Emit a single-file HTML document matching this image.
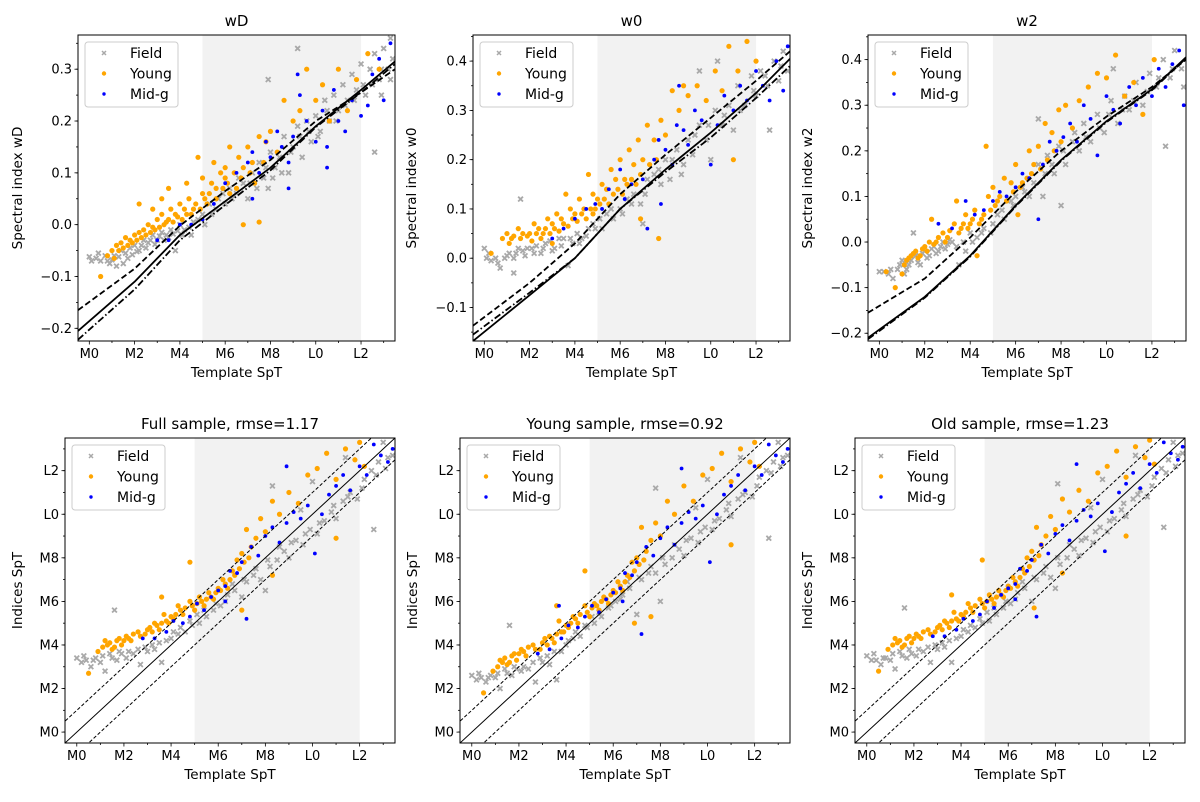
<!DOCTYPE html>
<html><head><meta charset="utf-8">
<style>
html,body{margin:0;padding:0;background:#fff;}
svg{display:block;font-family:"DejaVu Sans","Liberation Sans",sans-serif;}
</style></head>
<body>
<svg id="fig" width="1200" height="802" viewBox="0 0 1200 802" xmlns="http://www.w3.org/2000/svg"></svg>
<script>
// ---------- DATA ----------
const spTicks = [0,2,4,6,8,10,12];
const spTickLabels = ["M0","M2","M4","M6","M8","L0","L2"];
const shadeRange = [5,12];
const lineKnotsX = [-0.5,2,4,6,8,10,12,13.5];

const wD_field = "0,-0.062 0.1,-0.07 0.3,-0.065 0.5,-0.07 0.7,-0.06 0.9,-0.075 1.1,-0.06 1.2,-0.08 1.4,-0.05 1.6,-0.055 1.8,-0.045 2,-0.04 2.2,-0.05 2.4,-0.03 2.6,-0.035 2.8,-0.02 3,-0.03 3.2,-0.015 3.4,-0.02 3.6,-0.01 3.8,-0.05 4,0.0 4.2,-0.01 4.5,-0.02 4.8,0.01 5,0.02 5.3,0.04 5.6,0.03 5.9,0.06 6.2,0.07 6.5,0.06 6.8,0.08 7,0.05 7.2,0.1 7.5,0.12 7.7,0.09 7.9,0.07 8,0.14 8.2,0.11 8.4,0.13 8.6,0.17 8.8,0.1 9,0.15 9.2,0.19 9.4,0.13 9.6,0.2 9.8,0.16 10,0.21 10.2,0.18 10.4,0.24 10.6,0.2 10.8,0.25 11,0.22 11.2,0.27 11.4,0.24 11.6,0.29 11.8,0.26 12,0.31 12.2,0.25 12.4,0.3 12.6,0.33 12.8,0.28 13,0.34 13.2,0.3 13.4,0.32 12.6,0.14 7.9,0.28 9.2,0.34 12.9,0.25 13.3,0.36 0.4,-0.055 0.8,-0.07 1,-0.068 1.3,-0.062 1.5,-0.075 1.7,-0.065 1.9,-0.058 2.1,-0.052 2.3,-0.04 2.5,-0.045 2.7,-0.03 2.9,-0.038 3.1,-0.022 3.3,-0.03 3.5,-0.025 3.7,-0.018 3.9,-0.012 4.1,-0.02 4.4,-0.005 4.6,0.005 5.1,0.0 5.4,0.02 5.7,0.05 6,0.04 6.3,0.05 6.6,0.09 7.1,0.08 7.4,0.07 7.8,0.11 8.1,0.09 8.5,0.1 8.9,0.14 9.3,0.17 9.7,0.18 10.1,0.17 10.5,0.22 10.9,0.2 11.3,0.23 11.7,0.24 12.1,0.27 12.5,0.27 12.9,0.3 13.3,0.28";
const wD_young = "0.5,-0.1 0.8,-0.06 1,-0.05 1.2,-0.04 1.4,-0.035 1.6,-0.025 1.8,-0.03 2,-0.02 2.2,-0.015 2.4,-0.01 2.6,0.0 2.8,-0.005 3,0.01 3.2,0.02 3.4,0.005 3.6,0.03 3.8,0.02 4,0.04 4.2,0.03 4.4,0.05 4.6,0.03 4.8,0.13 5,0.06 5.2,0.04 5.4,0.08 5.6,0.07 5.8,0.1 6,0.09 6.2,0.06 6.4,0.1 6.6,0.13 6.8,0.11 7,0.15 7.2,0.12 7.5,0.17 7.8,0.16 8,0.18 8.3,0.14 8.6,0.24 9,0.2 9.3,0.22 9.6,0.3 10,0.24 10.3,0.27 10.6,0.2 11,0.3 11.4,0.22 11.8,0.28 12.3,0.33 12.8,0.3 6.8,0.0 7.5,0.005 3.5,0.07 2.2,0.04 5.5,0.12 6.2,0.15 1.1,-0.065 1.3,-0.05 1.5,-0.045 1.7,-0.04 1.9,-0.035 2.1,-0.03 2.3,-0.025 2.5,-0.02 2.7,-0.015 2.9,-0.01 3.1,-0.005 3.3,0.0 3.5,0.01 3.7,0.005 3.9,0.015 4.1,0.01 4.3,0.02 4.5,0.02 4.7,0.04 4.9,0.03 5.1,0.05 5.3,0.06 5.6,0.05 5.9,0.07 6.1,0.08 6.5,0.07 6.7,0.09 7.1,0.1 7.3,0.08 7.7,0.12 2.8,0.03 3.2,0.05 4.3,0.08 5.0,0.09 6.0,0.11";
const wD_midg = "3,-0.03 3.5,-0.03 4,0.0 4.5,0.0 5,0.01 5.5,0.04 6,0.08 6.5,0.1 7,0.12 7.2,0.14 7.5,0.1 7.8,0.16 8,0.13 8.3,0.18 8.5,0.15 8.8,0.12 9,0.17 9.3,0.25 9.6,0.2 10,0.16 10.3,0.22 10.5,0.15 10.8,0.26 11,0.2 11.3,0.18 11.6,0.24 12,0.21 12.3,0.23 12.5,0.29 12.8,0.32 13,0.24 13.3,0.35 9.2,0.29 10.5,0.11 8.8,0.07 7.2,0.05";
const wD_solid = [-0.205,-0.11,-0.02,0.045,0.11,0.19,0.26,0.315];
const wD_dash = [-0.165,-0.085,-0.002,0.065,0.125,0.2,0.255,0.30];
const wD_dashdot = [-0.222,-0.125,-0.03,0.038,0.105,0.188,0.255,0.31];

const w0_field = "0,0.02 0.1,0.0 0.3,-0.005 0.5,0.0 0.7,-0.02 0.9,0.0 1.1,0.01 1.3,0.0 1.5,0.02 1.7,0.015 1.9,0.02 2.1,0.02 2.3,0.025 2.5,0.01 2.7,0.03 2.9,0.035 3.1,0.02 3.3,0.04 3.5,0.04 3.7,-0.015 3.9,0.03 4.1,0.05 4.3,0.04 4.6,0.06 4.9,0.06 5.1,0.08 5.4,0.09 5.7,0.08 6,0.1 6.3,0.12 6.6,0.13 6.9,0.11 7,0.07 7.2,0.16 7.5,0.17 7.8,0.15 8,0.2 8.2,0.16 8.5,0.22 8.8,0.19 9,0.24 9.2,0.21 9.5,0.27 9.8,0.24 10,0.2 10.2,0.3 10.5,0.27 10.8,0.31 11,0.26 11.2,0.35 11.5,0.31 11.8,0.37 12,0.33 12.2,0.38 12.5,0.35 12.8,0.4 13,0.36 13.2,0.42 13.4,0.38 12.6,0.26 1.6,0.12 1.3,-0.03 9.5,0.38 10.3,0.4 0.2,0.01 0.6,-0.01 1,0.005 1.4,0.01 1.8,0.005 2.2,0.01 2.6,0.02 3,0.015 3.4,0.025 3.8,0.04 4.2,0.03 4.5,0.045 4.8,0.07 5.2,0.06 5.6,0.1 6.1,0.09 6.5,0.11 7.1,0.13 7.7,0.18 8.3,0.2 8.7,0.17 9.3,0.25 9.9,0.27 10.6,0.29 11.3,0.3 11.9,0.34 12.4,0.37 13.1,0.39";
const w0_young = "0.3,0.01 0.8,0.04 1,0.05 1.2,0.04 1.5,0.06 1.7,0.05 2,0.05 2.2,0.07 2.4,0.06 2.6,0.05 2.8,0.08 3,0.07 3.2,0.09 3.4,0.08 3.6,0.13 3.8,0.1 4,0.09 4.2,0.12 4.4,0.1 4.6,0.17 4.8,0.13 5,0.12 5.2,0.15 5.4,0.14 5.6,0.18 5.8,0.16 6,0.2 6.2,0.16 6.4,0.22 6.6,0.19 6.8,0.24 7,0.2 7.2,0.27 7.5,0.24 7.8,0.28 8,0.25 8.3,0.34 8.6,0.3 9,0.33 9.4,0.35 9.8,0.32 10.2,0.38 10.5,0.34 10.8,0.43 11.2,0.38 11.6,0.44 12,0.4 7.7,0.04 6.9,0.08 11,0.2 8.8,0.35 4.8,0.09 3,0.03 1.1,0.03 1.3,0.045 1.6,0.04 1.9,0.045 2.1,0.035 2.3,0.05 2.5,0.04 2.7,0.06 2.9,0.05 3.1,0.06 3.3,0.055 3.5,0.07 3.7,0.065 3.9,0.08 4.1,0.075 4.3,0.09 4.5,0.08 4.7,0.1 4.9,0.1 5.1,0.11 5.3,0.12 5.5,0.11 5.7,0.13 5.9,0.14 6.1,0.13 6.3,0.15 6.5,0.16 6.7,0.15 6.9,0.17 7.3,0.19 7.6,0.2";
const w0_midg = "3,0.04 3.5,0.06 4,0.08 4.5,0.1 4.9,0.11 5.2,0.1 5.5,0.14 6,0.18 6.2,0.12 6.5,0.15 7,0.16 7.2,0.06 7.5,0.2 7.7,0.24 8,0.22 8.3,0.19 8.5,0.27 8.8,0.26 9,0.23 9.3,0.3 9.6,0.28 10,0.19 10.3,0.27 10.6,0.33 11,0.3 11.3,0.35 11.6,0.32 12,0.38 12.3,0.35 12.6,0.32 12.9,0.4 13.2,0.34 13.4,0.43 8.6,0.35 7.8,0.11";
const w0_solid = [-0.168,-0.075,0.0,0.1,0.18,0.255,0.335,0.405];
const w0_dash = [-0.137,-0.05,0.03,0.13,0.21,0.285,0.36,0.42];
const w0_dashdot = [-0.155,-0.07,0.0,0.1,0.175,0.245,0.325,0.39];

const w2_field = "0,-0.065 0.2,-0.065 0.4,-0.07 0.6,-0.08 0.8,-0.06 1,-0.04 1.2,-0.06 1.4,-0.04 1.6,-0.03 1.8,-0.05 2,-0.02 2.2,-0.03 2.4,-0.01 2.6,-0.02 2.8,0.0 3,-0.005 3.2,0.0 3.5,-0.05 3.8,-0.02 4,0.02 4.3,0.01 4.6,0.03 4.9,0.02 5.2,0.06 5.5,0.05 5.8,0.09 6,0.1 6.3,0.12 6.6,0.1 7,0.17 7.2,0.1 7.4,0.19 7.7,0.15 7.9,0.21 8,0.08 8.2,0.17 8.5,0.22 8.8,0.2 9,0.26 9.3,0.22 9.6,0.28 9.9,0.24 10.2,0.31 10.5,0.26 10.8,0.32 11,0.29 11.3,0.35 11.6,0.3 11.9,0.37 12.2,0.34 12.5,0.4 12.8,0.36 13,0.42 13.3,0.38 13.4,0.34 12.6,0.21 1.5,0.02 7,0.27 10.3,0.38 0.5,-0.06 0.9,-0.05 1.1,-0.07 1.3,-0.05 1.7,-0.045 1.9,-0.025 2.1,-0.035 2.3,-0.015 2.5,-0.025 2.7,-0.01 2.9,-0.015 3.1,0.005 3.4,-0.01 3.7,0.0 4.1,0.0 4.5,0.02 5.0,0.04 5.4,0.07 5.9,0.08 6.4,0.11 6.8,0.13 7.3,0.15 7.6,0.17 8.1,0.2 8.6,0.24 9.1,0.23 9.7,0.25 10.1,0.28 10.7,0.29 11.2,0.31 11.8,0.33 12.3,0.36 12.9,0.38";
const w2_young = "0.3,-0.065 0.7,-0.1 1,-0.07 1.2,-0.04 1.4,-0.03 1.6,-0.02 1.8,-0.03 2,-0.01 2.2,0.0 2.5,0.0 2.8,0.02 3,0.01 3.3,0.04 3.6,0.03 3.8,0.06 4,0.04 4.2,0.07 4.5,0.05 4.7,0.21 4.8,0.1 5,0.12 5.2,0.09 5.5,0.14 5.8,0.13 6,0.17 6.3,0.13 6.6,0.2 6.8,0.17 7,0.21 7.3,0.26 7.6,0.24 7.9,0.29 8.2,0.3 8.5,0.25 8.8,0.31 9.2,0.34 9.6,0.37 10,0.36 10.4,0.41 10.8,0.32 11.2,0.35 11.6,0.28 12.1,0.4 6.1,0.06 4.3,-0.03 3.4,0.09 2.3,0.05 1.1,-0.05 1.3,-0.035 1.5,-0.025 1.7,-0.035 1.9,-0.015 2.1,-0.02 2.4,-0.005 2.6,0.01 2.9,0.0 3.1,0.025 3.5,0.02 3.7,0.04 3.9,0.03 4.1,0.05 4.4,0.04 4.6,0.06 4.9,0.07 5.1,0.08 5.3,0.1 5.6,0.09 5.9,0.11 6.2,0.12 6.5,0.14 6.7,0.15 7.1,0.16 7.4,0.18 7.7,0.2 8.0,0.22";
const w2_midg = "2.6,0.04 3.2,0.03 3.8,0.09 4.2,0.06 4.6,0.07 5,0.09 5.3,0.11 5.6,0.1 6,0.12 6.3,0.15 6.6,0.14 7,0.05 7.2,0.17 7.5,0.22 7.8,0.2 8.1,0.23 8.4,0.26 8.7,0.22 9,0.3 9.3,0.27 9.6,0.19 10,0.32 10.3,0.29 10.6,0.26 11,0.34 11.3,0.3 11.6,0.36 12,0.32 12.3,0.38 12.6,0.34 12.9,0.39 13.2,0.42 13.4,0.3";
const w2_solid = [-0.21,-0.12,-0.03,0.08,0.18,0.265,0.335,0.405];
const w2_dash = [-0.155,-0.08,0.01,0.11,0.2,0.275,0.34,0.40];
const w2_dashdot = [-0.213,-0.122,-0.032,0.078,0.178,0.263,0.333,0.403];

const full_field = "0,3.4 0.2,3.2 0.4,3.3 0.6,3.0 0.8,3.4 1,3.2 1.2,2.8 1.4,3.6 1.6,5.6 1.7,3.3 1.9,3.6 2.1,3.4 2.4,3.6 2.7,3.1 3,3.7 3.3,3.8 3.6,3.2 3.8,4.2 4,4.3 4.3,4.5 4.6,4.6 4.9,4.9 5.2,5.0 5.5,5.3 5.8,5.6 6.1,5.8 6.4,6.3 6.7,6.5 7,6.2 7.2,6.9 7.5,7.2 7.8,7.0 8,6.5 8.2,7.6 8.5,7.9 8.8,8.3 9,8.0 9.3,8.8 9.6,8.6 9.9,9.3 10.2,9.1 10.5,9.7 10.8,10.1 11,9.8 11.3,10.6 11.6,11.0 11.9,10.7 12.2,11.6 12.5,12.0 12.8,12.4 13.1,12.1 13.4,12.7 12.6,9.3 8.3,11.3 10,11.5 13,13.3 11.4,12.6 9.5,10.2 0.3,3.5 0.7,3.3 1.1,3.5 1.5,3.4 1.8,3.7 2.2,3.7 2.6,3.8 2.9,3.9 3.2,4.0 3.5,4.1 4.1,4.6 4.4,4.8 4.8,5.1 5.1,5.4 5.4,5.6 5.9,5.9 6.3,6.0 6.6,6.8 7.1,7.0 7.6,7.5 8.1,7.9 8.6,8.5 9.1,8.7 9.7,9.1 10.3,9.6 10.9,10.4 11.5,10.8 12.1,11.2 12.7,11.8 13.2,12.6";
const full_young = "0.5,2.7 0.9,3.7 1.1,3.9 1.3,4.0 1.5,3.8 1.7,4.2 1.9,4.0 2.1,4.4 2.3,4.2 2.6,4.6 2.9,4.5 3.1,4.8 3.3,5.0 3.5,4.7 3.7,5.4 3.9,5.0 4.1,5.2 4.3,5.8 4.5,5.4 4.8,7.8 4.8,6.0 5,5.6 5.2,6.2 5.4,5.8 5.6,6.4 5.8,6.1 6,6.6 6.2,7.0 6.4,6.6 6.6,7.4 6.8,7.9 7,8.2 7.2,9.3 7.4,8.5 7.6,8.9 7.8,9.8 8,9.2 8.3,10.6 8.6,10.0 9,11.0 9.4,10.5 9.8,11.8 10.2,12.1 10.6,12.8 11,11.6 11.4,13.0 11.8,12.5 12.2,12.2 12,13.3 7,5.6 8.3,7.2 3.6,6.2 11,8.9 1.2,4.2 1.4,4.1 1.6,3.9 1.8,4.3 2.0,4.2 2.2,4.3 2.4,4.5 2.7,4.4 3.0,4.7 3.2,4.6 3.4,4.9 3.6,5.0 3.8,5.1 4.0,5.3 4.2,5.4 4.4,5.6 4.6,5.7 4.9,5.8 5.1,5.9 5.3,6.0 5.5,6.1 5.7,6.2 5.9,6.4 6.1,6.5 6.3,6.8 6.5,7.0 6.7,7.2 6.9,7.5 7.1,7.8 7.3,8.0";
const full_midg = "2.8,4.3 3.3,4.3 3.8,4.6 4.1,5.1 4.5,5.0 4.8,5.3 5.1,5.9 5.4,5.6 5.7,6.2 6,6.5 6.3,6.7 6.5,7.4 6.8,7.3 7,7.8 7.2,5.2 7.4,8.5 7.7,8.1 8,9.0 8.3,9.4 8.6,8.7 8.9,9.6 9.2,10.1 9.5,9.8 9.8,10.4 10.1,8.2 10.4,10.0 10.7,10.9 11,11.3 11.3,11.8 11.6,11.1 12,12.2 12.3,11.8 12.6,13.2 12.9,12.7 13.2,12.4 13.4,13.0 8.9,12.2 6.3,6.0";

const young_field = "0,2.6 0.2,2.4 0.4,2.5 0.6,2.3 0.8,2.6 1,2.5 1.2,2.0 1.4,2.9 1.6,4.9 1.7,2.6 1.9,2.9 2.1,2.8 2.4,2.9 2.7,2.3 3,3.2 3.3,3.1 3.6,2.4 3.8,3.7 4,4.0 4.3,4.3 4.6,4.4 4.9,4.8 5.2,5.0 5.5,5.3 5.8,5.7 6.1,6.0 6.4,6.3 6.7,6.6 7,5.4 7.2,7.0 7.5,7.3 7.8,7.3 8,6.0 8.2,7.7 8.5,8.0 8.8,8.4 9,8.1 9.3,8.9 9.6,8.7 9.9,9.4 10.2,9.3 10.5,9.8 10.8,10.2 11,9.9 11.3,10.7 11.6,11.0 11.9,10.8 12.2,11.7 12.5,12.0 12.8,12.4 13.1,12.2 13.4,12.7 12.6,8.9 7.8,11.2 10,11.6 13,13.3 11.4,12.6 9.5,10.3 0.3,2.7 0.7,2.5 1.1,2.7 1.5,2.7 1.8,3.0 2.2,3.0 2.6,3.2 2.9,3.4 3.2,3.5 3.5,3.7 4.1,4.2 4.4,4.6 4.8,4.9 5.1,5.3 5.4,5.5 5.9,5.8 6.3,6.1 6.6,6.9 7.1,7.1 7.6,7.6 8.1,8.0 8.6,8.6 9.1,8.8 9.7,9.2 10.3,9.7 10.9,10.5 11.5,10.9 12.1,11.3 12.7,11.9 13.2,12.6";
const young_young = "0.5,1.8 0.9,2.8 1.1,3.0 1.3,3.2 1.5,3.1 1.7,3.5 1.9,3.3 2.1,3.8 2.3,3.5 2.6,4.0 2.9,3.8 3.1,4.3 3.3,4.4 3.5,4.1 3.7,5.1 3.9,4.6 4.1,4.8 4.3,5.3 4.5,5.0 4.8,7.4 4.8,5.8 5,5.3 5.2,5.9 5.4,5.6 5.6,6.2 5.8,5.9 6,6.5 6.2,6.9 6.4,6.5 6.6,7.2 6.8,7.8 7,8.0 7.2,9.4 7.4,8.3 7.6,8.8 7.8,9.6 8,9.0 8.3,10.6 8.6,10.0 9,11.3 9.4,10.6 9.8,11.8 10.2,12.1 10.6,12.8 11,11.5 11.4,13.0 11.8,12.4 12.2,12.2 12,13.3 6.9,5.0 7.6,5.3 3.6,5.8 11,8.6 1.2,3.3 1.4,3.4 1.6,3.2 1.8,3.6 2.0,3.6 2.2,3.7 2.4,3.9 2.7,3.8 3.0,4.1 3.2,4.0 3.4,4.3 3.6,4.5 3.8,4.6 4.0,4.9 4.2,5.0 4.4,5.2 4.6,5.4 4.9,5.5 5.1,5.7 5.3,5.8 5.5,6.0 5.7,6.1 5.9,6.3 6.1,6.4 6.3,6.7 6.5,6.9 6.7,7.1 6.9,7.4 7.1,7.7 7.3,7.9";
const young_midg = "2.8,3.6 3.3,3.8 3.8,4.3 4.1,4.9 4.5,4.8 4.8,5.3 5.1,5.8 5.4,5.5 5.7,6.1 6,6.4 6.3,6.6 6.5,7.3 6.8,7.2 7,7.8 7.2,4.5 7.4,8.5 7.7,8.1 8,8.9 8.3,9.4 8.6,8.6 8.9,9.6 9.2,10.1 9.5,9.8 9.8,10.4 10.1,7.8 10.4,10.0 10.7,10.9 11,11.3 11.3,11.8 11.6,11.1 12,12.2 12.3,11.8 12.6,13.2 12.9,12.7 13.2,12.4 13.4,13.0 8.9,12.1 6.4,6.0 3.7,5.8";

const old_field = "0,3.5 0.2,3.3 0.4,3.3 0.6,3.1 0.8,3.4 1,3.3 1.2,2.9 1.4,3.7 1.6,5.7 1.7,3.4 1.9,3.6 2.1,3.5 2.4,3.7 2.7,3.2 3,3.8 3.3,3.9 3.6,3.2 3.8,4.3 4,4.4 4.3,4.6 4.6,4.8 4.9,5.0 5.2,5.1 5.5,5.4 5.8,5.7 6.1,5.9 6.4,6.4 6.7,6.6 7,6.0 7.2,7.0 7.5,7.3 7.8,7.1 8,6.6 8.2,7.7 8.5,8.0 8.8,8.4 9,8.1 9.3,8.9 9.6,8.7 9.9,9.4 10.2,9.2 10.5,9.8 10.8,10.2 11,9.9 11.3,10.7 11.6,11.1 11.9,10.8 12.2,11.7 12.5,12.1 12.8,12.5 13.1,12.2 13.4,12.8 12.6,9.4 8.1,11.4 10,11.6 13,13.3 11.4,12.7 9.5,10.3 0.3,3.6 0.7,3.4 1.1,3.6 1.5,3.5 1.8,3.8 2.2,3.8 2.6,3.9 2.9,4.0 3.2,4.1 3.5,4.2 4.1,4.7 4.4,4.9 4.8,5.2 5.1,5.5 5.4,5.7 5.9,6.0 6.3,6.1 6.6,6.9 7.1,7.1 7.6,7.6 8.1,8.0 8.6,8.6 9.1,8.8 9.7,9.2 10.3,9.7 10.9,10.5 11.5,10.9 12.1,11.3 12.7,11.9 13.2,12.7";
const old_young = "0.5,2.8 0.9,3.8 1.1,4.0 1.3,4.1 1.5,3.9 1.7,4.3 1.9,4.1 2.1,4.5 2.3,4.3 2.6,4.7 2.9,4.6 3.1,4.9 3.3,5.1 3.5,4.8 3.7,5.5 3.9,5.1 4.1,5.3 4.3,5.9 4.5,5.5 4.9,7.9 4.8,6.1 5,5.7 5.2,6.3 5.4,5.9 5.6,6.5 5.8,6.2 6,6.7 6.2,7.1 6.4,6.7 6.6,7.5 6.8,8.0 7,8.3 7.2,9.4 7.4,8.6 7.6,9.0 7.8,9.9 8,9.3 8.3,10.7 8.6,10.1 9,11.1 9.4,10.6 9.8,11.9 10.2,12.2 10.6,12.9 11,11.7 11.4,13.1 11.8,12.6 12.2,12.3 12,13.4 7.1,5.7 8.3,7.3 3.6,6.3 11,9.0 1.2,4.3 1.4,4.2 1.6,4.0 1.8,4.4 2.0,4.3 2.2,4.4 2.4,4.6 2.7,4.5 3.0,4.8 3.2,4.7 3.4,5.0 3.6,5.1 3.8,5.2 4.0,5.4 4.2,5.5 4.4,5.7 4.6,5.8 4.9,5.9 5.1,6.0 5.3,6.1 5.5,6.2 5.7,6.3 5.9,6.5 6.1,6.6 6.3,6.9 6.5,7.1 6.7,7.3 6.9,7.6 7.1,7.9 7.3,8.1";
const old_midg = "2.8,4.4 3.3,4.4 3.8,4.7 4.1,5.2 4.5,5.1 4.8,5.4 5.1,6.0 5.4,5.7 5.7,6.3 6,6.6 6.3,6.8 6.5,7.5 6.8,7.4 7,7.9 7.2,5.3 7.4,8.6 7.7,8.2 8,9.1 8.3,9.5 8.6,8.8 8.9,9.7 9.2,10.2 9.5,9.9 9.8,10.5 10.1,8.3 10.4,10.1 10.7,11.0 11,11.4 11.3,11.9 11.6,11.2 12,12.3 12.3,11.9 12.6,13.3 12.9,12.8 13.2,12.5 13.4,13.1 8.9,12.3 6.3,6.1";

const diagOffsets = [-1,0,1];

// ---------- DRAW ----------
const NS = "http://www.w3.org/2000/svg";
const svg = document.getElementById('fig');
function mk(tag, attrs, parent){
  const e = document.createElementNS(NS, tag);
  for (const k in attrs) e.setAttribute(k, attrs[k]);
  (parent||svg).appendChild(e); return e;
}
function parsePts(s){ return s.trim().split(/\s+/).map(p=>p.split(',').map(Number)); }

function panel(cfg){
  const g = mk('g', {});
  
  
  const L=cfg.left,R=cfg.right,T=cfg.top,B=cfg.bottom;
  const X0=-0.5,X1=13.5;
  const sx = v => L + (v-X0)/(X1-X0)*(R-L);
  const sy = v => B - (v-cfg.ymin)/(cfg.ymax-cfg.ymin)*(B-T);
  const clip = 'clip-'+cfg.name;
  const cp = mk('clipPath',{id:clip},g); mk('rect',{x:L,y:T,width:R-L,height:B-T},cp);
  const shade = mk('rect',{x:sx(shadeRange[0]),y:T,width:sx(shadeRange[1])-sx(shadeRange[0]),height:B-T,fill:'#f2f2f2'},g);
  
  
  const plot = mk('g',{'clip-path':'url(#'+clip+')'},g);
  const fg = mk('g',{stroke:'#a9a9a9','stroke-width':1.8},plot);
  
  
  parsePts(cfg.field).forEach(([x,y])=>{
    const cx=sx(x),cy=sy(y),d=2.4;
    mk('path',{d:`M${cx-d},${cy-d}L${cx+d},${cy+d}M${cx-d},${cy+d}L${cx+d},${cy-d}`},fg);
  });
  const yg = mk('g',{fill:'#ffa500'},plot);
  
  
  parsePts(cfg.young).forEach(([x,y])=>mk('circle',{cx:sx(x),cy:sy(y),r:2.6},yg));
  const mg = mk('g',{fill:'#0000ff'},plot);
  
  
  parsePts(cfg.midg).forEach(([x,y])=>mk('circle',{cx:sx(x),cy:sy(y),r:1.9},mg));
  if (cfg.fits){
    cfg.fits.forEach(f=>{
      const d = lineKnotsX.map((x,i)=>(i?'L':'M')+sx(x).toFixed(1)+','+sy(f.vals[i]).toFixed(1)).join('');
      const p = mk('path',{d,fill:'none',stroke:'#000','stroke-width':1.8,'stroke-linejoin':'round','stroke-dasharray':f.dash||'none'},plot);
      
      
    });
  } else {
    diagOffsets.forEach(o=>{
      const p = mk('line',{x1:sx(-1),y1:sy(-1+o),x2:sx(14),y2:sy(14+o),stroke:'#000','stroke-width':1,'stroke-dasharray':o?'3.5,2':'none'},plot);
      
      
    });
  }
  mk('rect',{x:L,y:T,width:R-L,height:B-T,fill:'none',stroke:'#000','stroke-width':1},g);
  const xa = mk('g',{},g);
  
  
  for(let v=0; v<=13; v++){
    const major = v%2===0;
    mk('line',{x1:sx(v),x2:sx(v),y1:B,y2:B+(major?3.5:2),stroke:'#000','stroke-width':0.8},xa);
  }
  spTicks.forEach((v,i)=>{
    const t = mk('text',{x:sx(v),y:B+17,'text-anchor':'middle','font-size':13},xa);
    t.textContent = spTickLabels[i];
  });
  const xl = mk('text',{x:(L+R)/2,y:B+36,'text-anchor':'middle','font-size':13.5},g);
  xl.textContent='Template SpT';
  
  
  const ya = mk('g',{},g);
  
  
  cfg.yminor.forEach(v=>{ if(v>=cfg.ymin&&v<=cfg.ymax) mk('line',{x1:L-2,x2:L,y1:sy(v),y2:sy(v),stroke:'#000','stroke-width':0.8},ya); });
  cfg.yticks.forEach((v,i)=>{
    mk('line',{x1:L-3.5,x2:L,y1:sy(v),y2:sy(v),stroke:'#000','stroke-width':0.8},ya);
    const t = mk('text',{x:L-6,y:sy(v)+4.5,'text-anchor':'end','font-size':13},ya);
    t.textContent = cfg.ylabels[i];
  });
  const yl = mk('text',{x:cfg.ylabX,y:(T+B)/2,'text-anchor':'middle','font-size':13.5,transform:`rotate(-90 ${cfg.ylabX} ${(T+B)/2})`},g);
  yl.textContent = cfg.ylabel;
  
  
  const ti = mk('text',{x:(L+R)/2,y:T-9,'text-anchor':'middle','font-size':15},g);
  ti.textContent = cfg.title;
  
  
  const lg = mk('g',{},g);
  
  
  mk('rect',{x:L+7,y:T+7,width:93,height:65,rx:3,fill:'#fff','fill-opacity':0.8,stroke:'#cccccc','stroke-width':1},lg);
  [['Field','field'],['Young','young'],['Mid-g','midg']].forEach(([lab,k],i)=>{
    const cy = T+18+i*20.5, cx=L+26;
    const e = mk('g',{},lg);
    
    
    if(k==='field') mk('path',{d:`M${cx-2},${cy-2}L${cx+2},${cy+2}M${cx-2},${cy+2}L${cx+2},${cy-2}`,stroke:'#a9a9a9','stroke-width':1.5},e);
    else mk('circle',{cx,cy,r:k==='young'?2.2:1.7,fill:k==='young'?'#ffa500':'#0000ff'},e);
    const t = mk('text',{x:L+52,y:cy+5,'font-size':14},e); t.textContent=lab;
  });
}

const topYT = (a)=>a.map(v=>v.toFixed(1).replace('-','\u2212'));
function range(a,b,s){const r=[];for(let v=a;v<=b+1e-9;v+=s)r.push(+v.toFixed(3));return r;}

const topTicks1=[-0.2,-0.1,0,0.1,0.2,0.3];
const topTicks2=[-0.1,0,0.1,0.2,0.3,0.4];
const topTicks3=[-0.2,-0.1,0,0.1,0.2,0.3,0.4];
const spY=[0,2,4,6,8,10,12];

panel({name:'panel-wD',title:'wD',left:78,right:395,top:35,bottom:341,ymin:-0.2245,ymax:0.366,
  yticks:topTicks1,ylabels:topYT(topTicks1),yminor:range(-0.25,0.4,0.05),ylabel:'Spectral index wD',ylabX:22,
  field:wD_field,young:wD_young,midg:wD_midg,
  fits:[{name:'fit-solid',vals:wD_solid},{name:'fit-dashed',vals:wD_dash,dash:'6,3'},{name:'fit-dashdot',vals:wD_dashdot,dash:'7,2.5,1.5,2.5'}]});
panel({name:'panel-w0',title:'w0',left:473,right:790,top:35,bottom:341,ymin:-0.168,ymax:0.453,
  yticks:topTicks2,ylabels:topYT(topTicks2),yminor:range(-0.15,0.45,0.05),ylabel:'Spectral index w0',ylabX:416,
  field:w0_field,young:w0_young,midg:w0_midg,
  fits:[{name:'fit-solid',vals:w0_solid},{name:'fit-dashed',vals:w0_dash,dash:'6,3'},{name:'fit-dashdot',vals:w0_dashdot,dash:'7,2.5,1.5,2.5'}]});
panel({name:'panel-w2',title:'w2',left:868,right:1186,top:35,bottom:341,ymin:-0.217,ymax:0.454,
  yticks:topTicks3,ylabels:topYT(topTicks3),yminor:range(-0.2,0.45,0.05),ylabel:'Spectral index w2',ylabX:812,
  field:w2_field,young:w2_young,midg:w2_midg,
  fits:[{name:'fit-solid',vals:w2_solid},{name:'fit-dashed',vals:w2_dash,dash:'6,3'},{name:'fit-dashdot',vals:w2_dashdot,dash:'7,2.5,1.5,2.5'}]});
panel({name:'panel-full',title:'Full sample, rmse=1.17',left:65,right:395,top:438,bottom:743,ymin:-0.5,ymax:13.5,
  yticks:spY,ylabels:spTickLabels,yminor:range(0,13,1),ylabel:'Indices SpT',ylabX:22,
  field:full_field,young:full_young,midg:full_midg});
panel({name:'panel-young',title:'Young sample, rmse=0.92',left:460,right:790,top:438,bottom:743,ymin:-0.5,ymax:13.5,
  yticks:spY,ylabels:spTickLabels,yminor:range(0,13,1),ylabel:'Indices SpT',ylabX:417,
  field:young_field,young:young_young,midg:young_midg});
panel({name:'panel-old',title:'Old sample, rmse=1.23',left:855,right:1185,top:438,bottom:743,ymin:-0.5,ymax:13.5,
  yticks:spY,ylabels:spTickLabels,yminor:range(0,13,1),ylabel:'Indices SpT',ylabX:812,
  field:old_field,young:old_young,midg:old_midg});
</script>
</body></html>
